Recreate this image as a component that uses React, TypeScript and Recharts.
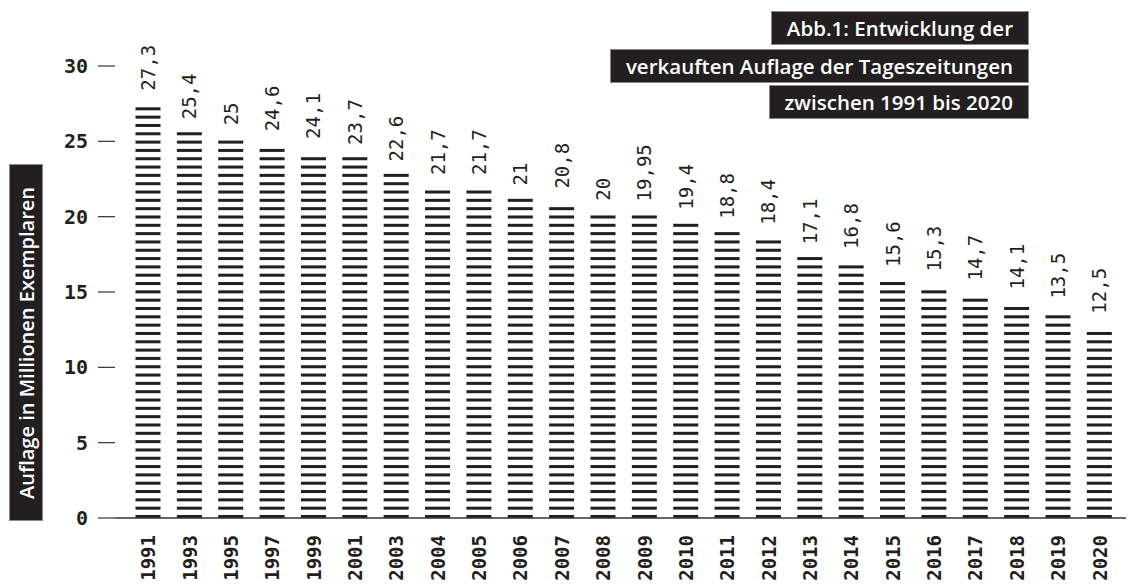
import { BarChart, Bar, XAxis, YAxis, LabelList } from 'recharts';

const years = [
  '1991', '1993', '1995', '1997', '1999', '2001', '2003', '2004', '2005', '2006', '2007', '2008',
  '2009', '2010', '2011', '2012', '2013', '2014', '2015', '2016', '2017', '2018', '2019', '2020',
];
const auflage = [
  27.3, 25.4, 25, 24.6, 24.1, 23.7, 22.6, 21.7, 21.7, 21, 20.8, 20,
  19.95, 19.4, 18.8, 18.4, 17.1, 16.8, 15.6, 15.3, 14.7, 14.1, 13.5, 12.5,
];
const yTicks = [0, 5, 10, 15, 20, 25, 30];
const titleLines = [
  'Abb.1: Entwicklung der',
  'verkauften Auflage der Tageszeitungen',
  'zwischen 1991 bis 2020',
];
const yLabel = 'Auflage in Millionen Exemplaren';

const data = years.map((year, i) => ({ year, value: auflage[i] }));

const INK = '#231f20';
const MONO = '"DejaVu Sans Mono", monospace';
const SANS = '"Open Sans", "Noto Sans", sans-serif';
const STRIPE = 3;
const GAP = 8.32;

// bars are drawn as a stack of horizontal strokes from the baseline up
function StripedBar(props: any) {
  const { x, y, width, height } = props;
  if (!height || height <= 0) return null;
  const bottom = y + height;
  const n = Math.round((height - STRIPE) / GAP) + 1;
  return (
    <g>
      {Array.from({ length: n }, (_, i) => (
        <rect key={i} x={x} y={bottom - STRIPE - i * GAP} width={width} height={STRIPE} fill={INK} />
      ))}
    </g>
  );
}

function ValueLabel(props: any) {
  const x = Number(props.x);
  const y = Number(props.y);
  const w = Number(props.width);
  const cx = x + w / 2;
  const ty = y - 16;
  const text = String(props.value).replace('.', ',');
  return (
    <text
      x={cx}
      y={ty}
      transform={`rotate(-90 ${cx} ${ty})`}
      textAnchor="start"
      dominantBaseline="central"
      fontFamily={MONO}
      fontSize={19}
      fill={INK}
    >
      {text}
    </text>
  );
}

function YearTick(props: any) {
  const { x, y, payload } = props;
  return (
    <text
      x={x}
      y={y}
      transform={`rotate(-90 ${x} ${y})`}
      textAnchor="end"
      dominantBaseline="central"
      fontFamily={MONO}
      fontWeight="bold"
      fontSize={19}
      fill={INK}
    >
      {payload.value}
    </text>
  );
}

const boxTops = [12, 49.5, 86];

export default function App() {
  return (
    <div style={{ position: 'absolute', left: 0, top: 0, width: 1128, height: 585, background: '#fff' }}>
      <BarChart
        width={1128}
        height={585}
        data={data}
        margin={{ top: 66, right: 2, bottom: 0, left: 0 }}
        barSize={25}
      >
        <XAxis
          dataKey="year"
          interval={0}
          height={67}
          padding={{ left: 12.5, right: 5.8 }}
          axisLine={{ stroke: '#333', strokeWidth: 1.5 }}
          tickLine={false}
          tickSize={6}
          tickMargin={11}
          tick={<YearTick />}
        />
        <YAxis
          domain={[0, 30]}
          ticks={yTicks}
          width={115}
          tickSize={17}
          tickMargin={10}
          axisLine={false}
          tickLine={{ stroke: '#333', strokeWidth: 1.2 }}
          tick={{ fontFamily: MONO, fontWeight: 'bold', fontSize: 20, fill: INK }}
        />
        <Bar dataKey="value" shape={StripedBar} isAnimationActive={false}>
          <LabelList dataKey="value" content={ValueLabel} />
        </Bar>
      </BarChart>

      {titleLines.map((line, i) => (
        <div
          key={line}
          style={{
            position: 'absolute',
            right: 100,
            top: boxTops[i],
            height: 32,
            lineHeight: '32px',
            padding: '0 15px',
            background: INK,
            color: '#fff',
            fontFamily: SANS,
            fontWeight: 600,
            fontSize: 20.5,
            whiteSpace: 'nowrap',
            boxShadow: '0 0 0 1px #8a8888',
          }}
        >
          {line}
        </div>
      ))}

      <div
        style={{
          position: 'absolute',
          left: 10,
          top: 165,
          width: 32,
          height: 355,
          background: INK,
          boxShadow: '0 0 0 1px #8a8888',
          display: 'flex',
          alignItems: 'center',
          justifyContent: 'center',
        }}
      >
        <span
          style={{
            writingMode: 'vertical-rl',
            transform: 'rotate(180deg)',
            color: '#fff',
            fontFamily: SANS,
            fontWeight: 600,
            fontSize: 20,
            whiteSpace: 'nowrap',
          }}
        >
          {yLabel}
        </span>
      </div>
    </div>
  );
}
